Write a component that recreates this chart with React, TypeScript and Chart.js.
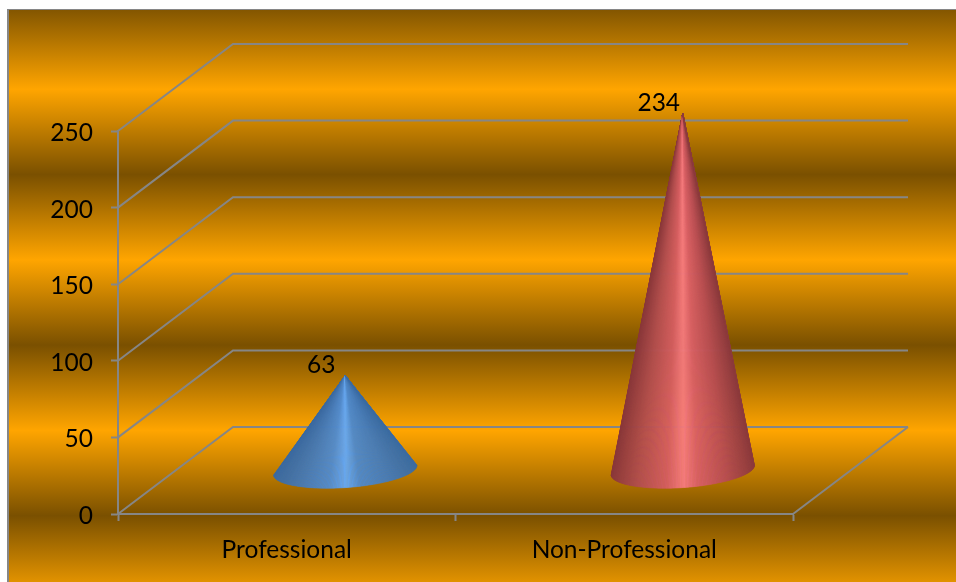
import { useEffect, useRef } from "react";
import { Chart, registerables } from "chart.js";

Chart.register(...registerables);

const categories = ["Professional", "Non-Professional"];
const counts = [63, 234];
const yMax = 250;
const yStep = 50;

const coneShades = [
  [[60, 108, 162], [72, 124, 184], [82, 138, 200], [104, 168, 240], [84, 140, 204], [72, 122, 180], [60, 106, 160]],
  [[140, 58, 60], [184, 78, 82], [216, 96, 100], [245, 123, 125], [212, 94, 96], [178, 78, 78], [138, 56, 58]],
];
const shadeStops = [0, 0.2, 0.4, 0.5, 0.62, 0.82, 1];

const GRID = "#868686";
const FONT = "Lato, 'Open Sans', sans-serif";
const TEXT_SIZE = 24.5;
const DEPTH_X = 115;
const DEPTH_Y = -87;
const SLICES = 160;

function shadeAt(shades: number[][], f: number) {
  let k = 0;
  while (k < shadeStops.length - 2 && f > shadeStops[k + 1]) k++;
  const t = (f - shadeStops[k]) / (shadeStops[k + 1] - shadeStops[k]);
  const c = shades[k].map((v, n) => Math.round(v + (shades[k + 1][n] - v) * t));
  return `rgb(${c[0]},${c[1]},${c[2]})`;
}

const backdrop = {
  id: "backdrop",
  beforeDraw(chart: any) {
    const { ctx, width, height } = chart;
    const left = 8;
    const top = 9;
    const g = ctx.createLinearGradient(0, 4, 0, 601);
    const bands = 7;
    for (let i = 0; i <= bands; i++) {
      g.addColorStop(i / bands, i % 2 === 0 ? "#7a5000" : "#ffa500");
    }
    ctx.save();
    ctx.fillStyle = g;
    ctx.fillRect(left, top, width - left, height - top);
    ctx.fillStyle = GRID;
    ctx.fillRect(left - 1, top, 2, height - top);
    ctx.fillRect(left - 1, top, width - left + 1, 1);
    ctx.restore();
  },
};

// Side wall, back wall and floor edges of the box, derived from the axis scales.
const box = {
  id: "box",
  beforeDatasetsDraw(chart: any) {
    const { ctx, chartArea, scales } = chart;
    const { left, right, bottom } = chartArea;
    ctx.save();
    ctx.strokeStyle = GRID;
    ctx.lineWidth = 2;
    for (const tick of scales.y.ticks) {
      const y = scales.y.getPixelForValue(tick.value);
      ctx.beginPath();
      ctx.moveTo(left, y);
      ctx.lineTo(left + DEPTH_X, y + DEPTH_Y);
      ctx.lineTo(right + DEPTH_X, y + DEPTH_Y);
      ctx.stroke();
    }
    ctx.beginPath();
    ctx.moveTo(right, bottom);
    ctx.lineTo(right + DEPTH_X, bottom + DEPTH_Y);
    ctx.stroke();
    ctx.restore();
  },
};

// Each bar element supplies its centre, height and width; it is painted as a cone
// standing halfway into the depth of the box, shaded with a fan of slices from the tip.
const cones = {
  id: "cones",
  afterDatasetsDraw(chart: any) {
    const { ctx } = chart;
    const bars = chart.getDatasetMeta(0).data;
    const tilt = (-4 * Math.PI) / 180;
    bars.forEach((bar: any, i: number) => {
      const cx = bar.x + DEPTH_X / 2 + 1;
      const cy = bar.base + DEPTH_Y / 2;
      const tipY = bar.y + DEPTH_Y / 2 + 1.5;
      const rx = bar.width / 2;
      const ry = rx * 0.245;
      const rimPoint = (a: number) => {
        const px = rx * Math.cos(a);
        const py = ry * Math.sin(a);
        return [
          cx + px * Math.cos(tilt) - py * Math.sin(tilt),
          cy + px * Math.sin(tilt) + py * Math.cos(tilt),
        ];
      };

      ctx.save();
      ctx.lineWidth = 0.6;
      ctx.lineJoin = "round";
      for (let s = 0; s < SLICES; s++) {
        const a0 = Math.PI - (s / SLICES) * Math.PI;
        const a1 = Math.PI - ((s + 1) / SLICES) * Math.PI;
        const p0 = rimPoint(a0);
        const p1 = rimPoint(a1);
        const shade = shadeAt(coneShades[i], (1 - Math.cos((a0 + a1) / 2)) / 2);
        ctx.fillStyle = shade;
        ctx.strokeStyle = shade;
        ctx.beginPath();
        ctx.moveTo(cx, tipY);
        ctx.lineTo(p0[0], p0[1]);
        ctx.lineTo(p1[0], p1[1]);
        ctx.closePath();
        ctx.fill();
        ctx.stroke();
      }
      ctx.restore();

      ctx.save();
      ctx.fillStyle = "#000";
      ctx.font = `${TEXT_SIZE}px ${FONT}`;
      ctx.textAlign = "center";
      ctx.textBaseline = "middle";
      ctx.fillText(String(counts[i]), cx - 24, tipY - 10);
      ctx.restore();
    });
  },
};

export default function App() {
  const ref = useRef<HTMLCanvasElement>(null);

  useEffect(() => {
    const chart = new Chart(ref.current!, {
      type: "bar",
      data: {
        labels: categories,
        datasets: [
          {
            data: counts,
            backgroundColor: "transparent",
            barPercentage: 0.85,
            categoryPercentage: 0.5,
          },
        ],
      },
      options: {
        responsive: false,
        animation: false,
        layout: { padding: { top: 131, right: 163, left: 0, bottom: 0 } },
        plugins: { legend: { display: false }, tooltip: { enabled: false } },
        scales: {
          x: {
            afterFit(scale: any) {
              scale.height = 68;
            },
            grid: { drawOnChartArea: false, tickLength: 7, tickColor: GRID, tickWidth: 2 },
            border: { color: GRID, width: 2 },
            ticks: { color: "#000", font: { family: FONT, size: TEXT_SIZE }, padding: 14 },
          },
          y: {
            min: 0,
            max: yMax,
            afterFit(scale: any) {
              scale.width = 118;
            },
            grid: { drawOnChartArea: false, tickLength: 7, tickColor: GRID, tickWidth: 2 },
            border: { color: GRID, width: 2 },
            ticks: {
              stepSize: yStep,
              color: "#000",
              font: { family: FONT, size: TEXT_SIZE },
              padding: 18,
              labelOffset: 2,
            },
          },
        },
      },
      plugins: [backdrop, box, cones],
    } as any);
    return () => chart.destroy();
  }, []);

  return (
    <div style={{ position: "absolute", left: 0, top: 0, width: 956, height: 582 }}>
      <canvas ref={ref} width={956} height={582} style={{ display: "block" }} />
    </div>
  );
}
